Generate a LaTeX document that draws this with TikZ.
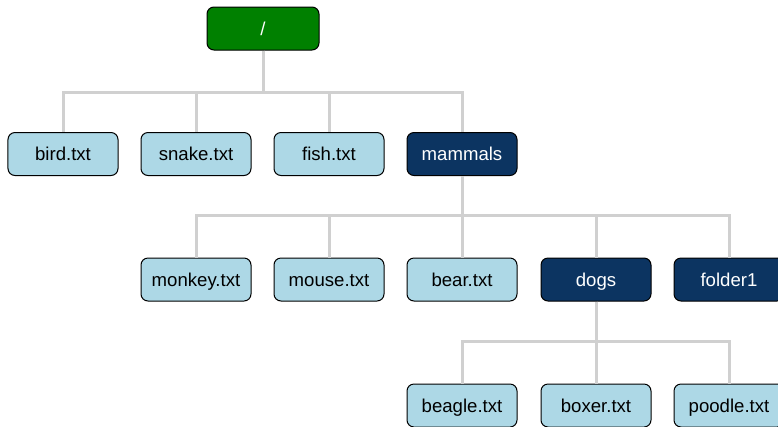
\documentclass[tikz,border=0pt]{standalone}
\usepackage{fontspec}
\setmainfont{Liberation Sans}
\definecolor{rootgreen}{HTML}{008000}
\definecolor{filefill}{HTML}{ADD8E6}
\definecolor{dirfill}{HTML}{0C3461}
\definecolor{linkgray}{HTML}{D0D0D0}
\tikzset{
	box/.style={draw=black,line width=1bp,rounded corners=7bp,minimum width=110bp,minimum height=43bp,inner sep=0pt,text height=13.5bp,text depth=0pt,font=\fontsize{18.6bp}{21bp}\selectfont},
	file/.style={box,fill=filefill,text=black},
	folder/.style={box,fill=dirfill,text=white},
	link/.style={draw=linkgray,line width=3bp}
}
\begin{document}
\begin{tikzpicture}[x=1bp,y=-1bp]
	\useasboundingbox (0,0) rectangle (778,426);
	\clip (0,0) rectangle (778,426);
	\fill[white] (0,0) rectangle (778,426);
	% top
	\node[box,fill=rootgreen,text=white,minimum width=112bp] (root) at (263,28.5) {/};
	% first row
	\node[file] (bird) at (63,154) {bird.txt};
	\node[file] (snake) at (196,154) {snake.txt};
	\node[file] (fish) at (329,154) {fish.txt};
	\node[folder] (mammals) at (462,154) {mammals};
	% second row
	\node[file] (monkey) at (196,279.5) {monkey.txt};
	\node[file] (mouse) at (329,279.5) {mouse.txt};
	\node[file] (bear) at (462,279.5) {bear.txt};
	\node[folder] (dogs) at (596,279.5) {dogs};
	\node[folder] (folder1) at (729,279.5) {folder1};
	% third row
	\node[file] (beagle) at (462,405.5) {beagle.txt};
	\node[file] (boxer) at (596,405.5) {boxer.txt};
	\node[file] (poodle) at (729,405.5) {poodle.txt};
	% links
	\foreach \c in {bird,snake,fish,mammals}
		\draw[link] (root.south) -- ++(0,42) -| (\c.north);
	\foreach \c in {monkey,mouse,bear,dogs,folder1}
		\draw[link] (mammals.south) -- ++(0,39) -| (\c.north);
	\foreach \c in {beagle,boxer,poodle}
		\draw[link] (dogs.south) -- ++(0,40) -| (\c.north);
\end{tikzpicture}
\end{document}
